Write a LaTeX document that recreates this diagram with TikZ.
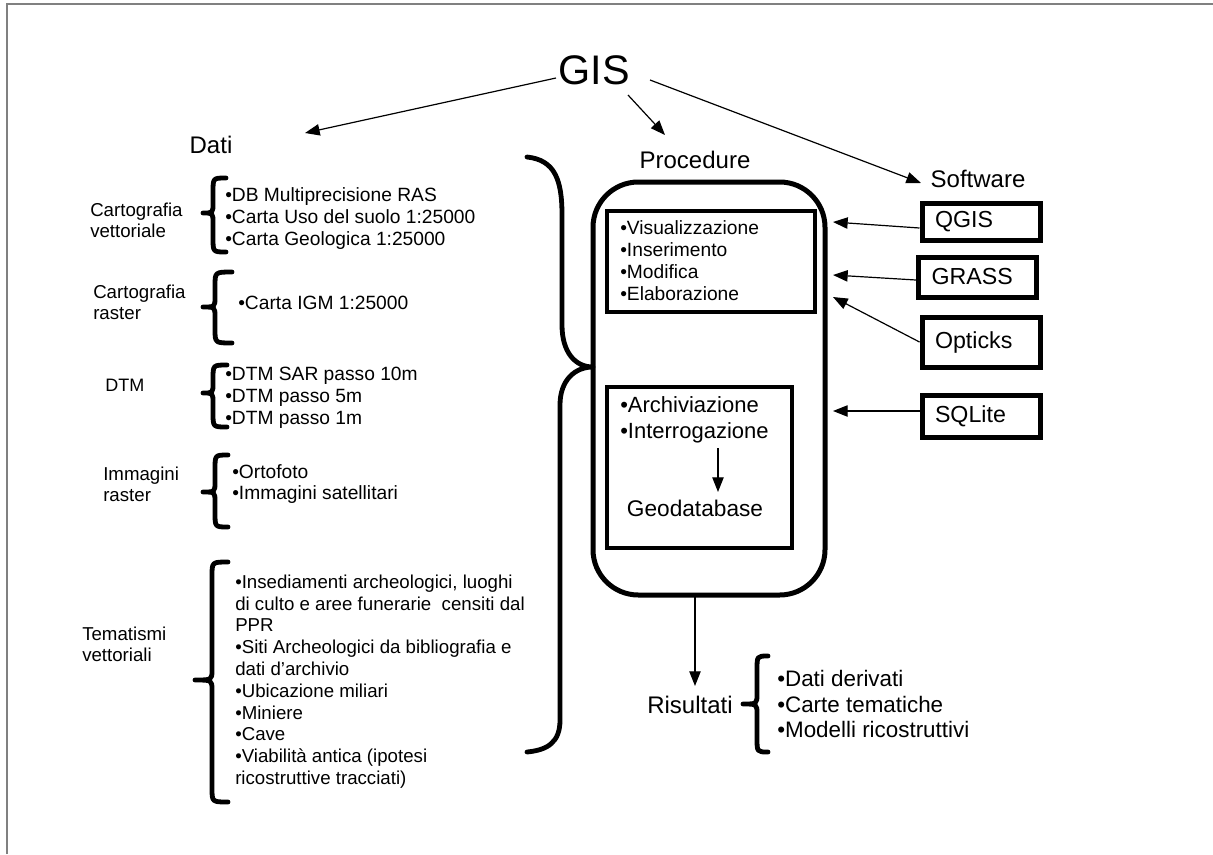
\documentclass[tikz,border=0pt]{standalone}
\usepackage{fontspec}
\setmainfont{Liberation Sans}
\usetikzlibrary{arrows.meta}
\newcommand{\fs}[2]{\fontsize{#1pt}{#2pt}\selectfont}
% #1 tip x, #2 stem x, #3 end x, #4 top y, #5 tip y, #6 bottom y
\newcommand{\lbr}[6]{\draw[brc] (#3,#4) .. controls (#2,#4) .. (#2,#4+14) -- (#2,#5-10) .. controls (#2,#5) .. (#1,#5) .. controls (#2,#5) .. (#2,#5+10) -- (#2,#6-14) .. controls (#2,#6) .. (#3,#6);}
\begin{document}
\begin{tikzpicture}[x=0.75pt,y=-0.75pt,
  arr/.style={-{Triangle[length=11pt,width=8.5pt]}, line width=0.9pt},
  brc/.style={line width=3.6pt, line cap=round, line join=round},
  txt/.style={inner sep=0pt, align=left, anchor=west},
  head/.style={inner sep=0pt, font=\fs{18}{21}},
  cat/.style={txt, font=\fs{14}{16}},
  item/.style={txt, font=\fs{14.4}{16.35}},
  swbox/.style={draw, line width=3.75pt, inner xsep=9.75pt, inner ysep=0pt, text width=69pt, align=left, font=\fs{17.4}{20}},
  inbox/.style={draw, line width=3.5pt, inner sep=0pt}]
\useasboundingbox (0,0) rectangle (1213,854);
\fill[white] (0,0) rectangle (1213,854);
\draw[gray, line width=1.2pt] (7,854) -- (7,4) -- (1213,4);

% titles
\node[inner sep=0pt, font=\fs{31}{36}] (gis) at (594,70) {GIS};
\node[head] (dati) at (211,145) {Dati};
\node[head] (proc) at (695,160) {Procedure};
\node[head] (soft) at (978,179) {Software};

\coordinate (g1) at (556,78);
\coordinate (g2) at (628,95);
\coordinate (g3) at (650,80);
\coordinate (td) at (305,133);
\coordinate (tp) at (665,135);
\coordinate (ts) at (921,183);
\draw[arr] (g1) -- (td);
\draw[arr] (g2) -- (tp);
\draw[arr] (g3) -- (ts);

% left column
\node[cat] (catv) at (90,220) {Cartografia\\vettoriale};
\node[cat] (catr) at (93,302) {Cartografia\\raster};
\node[txt, font=\fs{13.5}{16}] (dtm) at (105,385) {DTM};
\node[cat] (imm) at (103,484) {Immagini\\raster};
\node[cat] (tem) at (82,644) {Tematismi\\vettoriali};

\lbr{203}{213}{226}{178}{213}{252}
\lbr{203}{215}{232}{272}{307}{343}
\lbr{203}{213}{227}{365}{393}{427}
\lbr{203}{215}{228}{455}{492}{527}
\lbr{195}{212}{228}{562}{680}{802}

\node[item] (it1) at (225,218.5) {•DB Multiprecisione RAS\\•Carta Uso del suolo 1:25000\\•Carta Geologica 1:25000};
\node[item] (it2) at (238,303) {•Carta IGM 1:25000};
\node[item] (it3) at (225,397.5) {•DTM SAR passo 10m\\•DTM passo 5m\\•DTM passo 1m};
\node[item] (it4) at (232,484) {•Ortofoto\\•Immagini satellitari};
\node[item, font=\fs{14}{16.35}] (it5) at (235,681.5) {•Insediamenti archeologici, luoghi\\di culto e aree funerarie \ censiti dal\\PPR\\•Siti Archeologici da bibliografia e\\dati d'archivio\\•Ubicazione miliari\\•Miniere\\•Cave\\•Viabilità antica (ipotesi\\ricostruttive tracciati)};

% big brace
\draw[brc] (527,157) .. controls (555,160) and (562,180) .. (562,215) -- (562,325)
  .. controls (562,352) and (575,367) .. (593,367)
  .. controls (575,367) and (560,380) .. (560,405) -- (560,720)
  .. controls (560,742) and (548,750) .. (527,752);

% procedure box
\node[draw, line width=3.75pt, rounded corners=34pt, minimum width=174pt, minimum height=309.75pt, inner sep=0pt] (pbox) at (709,388.5) {};
\node[inbox, minimum width=156pt, minimum height=75.75pt] (b1) at (711,261.5) {};
\node[inbox, minimum width=138.75pt, minimum height=120.75pt] (b2) at (699.5,467.5) {};
\node[txt, font=\fs{14.4}{16.5}] (it6) at (620,261) {•Visualizzazione\\•Inserimento\\•Modifica\\•Elaborazione};
\node[txt, font=\fs{16.5}{19.5}] (it7) at (620,420) {•Archiviazione\\•Interrogazione};
\node[inner sep=0pt, font=\fs{17}{20}] (geo) at (695,508) {Geodatabase};
\coordinate (a1) at (718,448);
\coordinate (a2) at (718,492);
\draw[arr] (a1) -- (a2);

% software
\node[swbox, minimum height=27.75pt] (qgis) at (981,221.5) {QGIS};
\node[swbox, minimum height=30pt] (grass) at (977.5,277) {GRASS};
\node[swbox, minimum height=37.5pt] (opt) at (981,342) {Opticks};
\node[swbox, minimum height=31.5pt] (sql) at (981,416) {SQLite};
\coordinate (q1) at (833,222);
\coordinate (q2) at (833,275);
\coordinate (q3) at (833,297);
\coordinate (q4) at (833,411);
\draw[arr] (qgis.west |- 0,228) -- (q1);
\draw[arr] (grass.west |- 0,280) -- (q2);
\draw[arr] (opt.west) -- (q3);
\draw[arr] (sql.west |- 0,411) -- (q4);

% results
\coordinate (r0) at (695,595);
\coordinate (r1) at (695,686);
\draw[arr] (r0) -- (r1);
\node[head] (ris) at (690,705) {Risultati};
\lbr{743}{757}{768}{656}{704}{752}
\node[txt, font=\fs{16.8}{19}] (it8) at (777,704) {•Dati derivati\\•Carte tematiche\\•Modelli ricostruttivi};
\end{tikzpicture}
\end{document}
